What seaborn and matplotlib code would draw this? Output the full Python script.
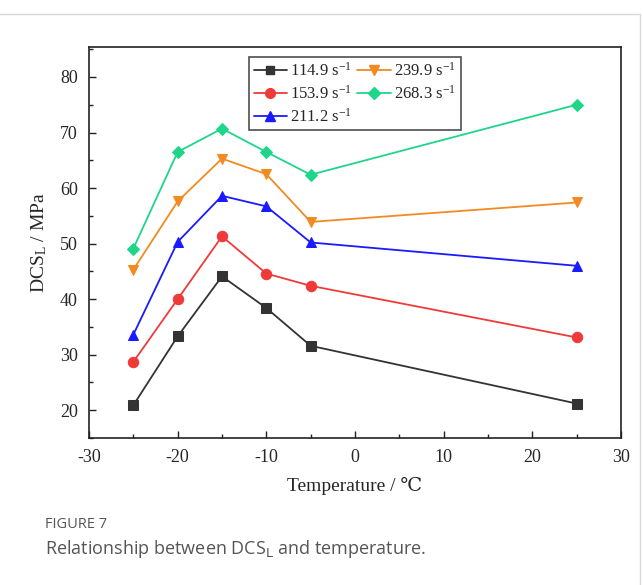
import matplotlib
matplotlib.use("Agg")
import matplotlib.pyplot as plt
import seaborn as sns
import pandas as pd
from matplotlib.ticker import MultipleLocator
from matplotlib.lines import Line2D

temps = [-25, -20, -15, -10, -5, 25]
series_names = ["114.9 s$^{-1}$", "153.9 s$^{-1}$", "211.2 s$^{-1}$", "239.9 s$^{-1}$", "268.3 s$^{-1}$"]
s114 = [20.9, 33.3, 44.1, 38.4, 31.6, 21.2]
s153 = [28.7, 40.0, 51.3, 44.6, 42.4, 33.1]
s211 = [33.6, 50.3, 58.6, 56.7, 50.2, 46.0]
s239 = [45.3, 57.6, 65.3, 62.5, 53.9, 57.4]
s268 = [49.1, 66.5, 70.7, 66.5, 62.4, 75.0]
all_vals = [s114, s153, s211, s239, s268]

colors = ["#333333", "#f03a3a", "#1a1aff", "#f28a22", "#1ed68a"]
markers = ["s", "o", "^", "v", "D"]
msizes = [6.5, 7.5, 7.5, 7.5, 6.5]

rows = []
for name, vals in zip(series_names, all_vals):
    for t, v in zip(temps, vals):
        rows.append({"Temperature": t, "DCS": v, "series": name})
df = pd.DataFrame(rows)

sns.set_style("white")
plt.rcParams["font.family"] = ["Liberation Serif", "DejaVu Serif"]
plt.rcParams["axes.unicode_minus"] = False
plt.rcParams["mathtext.fontset"] = "custom"
plt.rcParams["mathtext.rm"] = "Liberation Serif"
plt.rcParams["mathtext.it"] = "Liberation Serif:italic"

fig = plt.figure(figsize=(6.43, 5.85), dpi=100)
ax = fig.add_axes([0.1384, 0.2513, 0.8274, 0.6684])

for name, col, mk, ms in zip(series_names, colors, markers, msizes):
    sub = df[df["series"] == name]
    sns.lineplot(data=sub, x="Temperature", y="DCS", ax=ax, color=col, marker=mk,
                 markersize=ms, markeredgecolor=col, linewidth=1.3, label=name, legend=False)

ax.set_xlim(-30, 30)
ax.set_ylim(15, 85.4)
ax.xaxis.set_major_locator(MultipleLocator(10))
ax.xaxis.set_minor_locator(MultipleLocator(5))
ax.yaxis.set_major_locator(MultipleLocator(10))
ax.yaxis.set_minor_locator(MultipleLocator(5))
ax.set_yticks([20, 30, 40, 50, 60, 70, 80])
ax.tick_params(which="major", direction="in", length=5, width=1, labelsize=13, color="#222222",
               bottom=True, left=True, top=False, right=False, pad=8)
ax.tick_params(which="minor", direction="in", length=3, width=1, color="#222222",
               bottom=True, left=True, top=False, right=False)
for sp in ax.spines.values():
    sp.set_color("#222222")
    sp.set_linewidth(1.2)
ax.set_xlabel("Temperature / \u2103", fontsize=14, labelpad=8)
ax.set_ylabel("DCS$_\\mathrm{L}$ / MPa", fontsize=14, labelpad=8)

handles = [Line2D([0], [0], color=c, marker=m, markersize=ms - 0.5, markeredgecolor=c, linewidth=1.3)
           for c, m, ms in zip(colors, markers, msizes)]
leg = ax.legend(handles, series_names, ncol=2, loc="upper left", bbox_to_anchor=(0.30, 0.975),
                fontsize=12, frameon=True, fancybox=False, edgecolor="#222222",
                handlelength=2.0, handletextpad=0.2, columnspacing=0.3, labelspacing=0.3,
                borderpad=0.3, borderaxespad=0)
leg.get_frame().set_linewidth(1.2)

# card border
fig.add_artist(Line2D([0, 0.9955], [1 - 14 / 585, 1 - 14 / 585], color="#d8d8d8", linewidth=1, transform=fig.transFigure))
fig.add_artist(Line2D([0.9955, 0.9955], [1 - 14 / 585, 0], color="#d8d8d8", linewidth=1, transform=fig.transFigure))

fig.text(45 / 643, 1 - 524 / 585, "FIGURE 7", fontsize=10.5, color="#555555",
         family=["Open Sans", "DejaVu Sans"], va="center", ha="left")
fig.text(45 / 643, 1 - 549 / 585, "Relationship between DCS$_\\mathsf{L}$ and temperature.", fontsize=13,
         color="#555555", family=["Open Sans", "DejaVu Sans"], va="center", ha="left",
         math_fontfamily="dejavusans")

fig.savefig("out.png", dpi=100)
